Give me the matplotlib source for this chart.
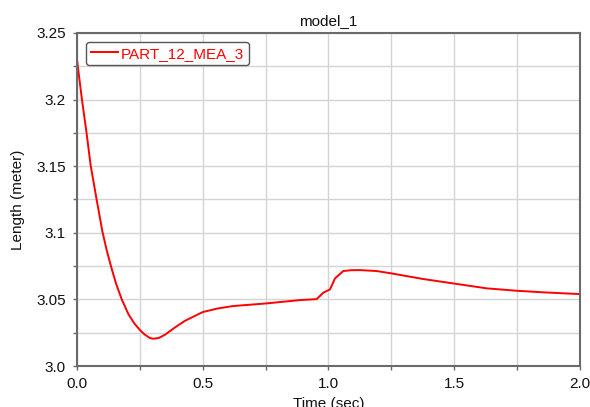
import matplotlib
matplotlib.use("Agg")
import matplotlib.pyplot as plt
from matplotlib.ticker import MultipleLocator, FormatStrFormatter

plt.rcParams['font.family'] = ['Liberation Sans', 'DejaVu Sans']

# Simulation output: measure PART_12_MEA_3 over time
time_sec = [0.0, 0.019, 0.038, 0.054, 0.078, 0.101, 0.118, 0.135, 0.155, 0.178,
            0.205, 0.228, 0.25, 0.27, 0.29, 0.303, 0.325, 0.35, 0.39, 0.43,
            0.5, 0.56, 0.62, 0.754, 0.887, 0.953, 0.979, 1.006, 1.026, 1.059,
            1.09, 1.125, 1.191, 1.251, 1.377, 1.496, 1.629, 1.748, 1.854, 2.0]
length_m = [3.230, 3.201, 3.175, 3.151, 3.125, 3.101, 3.087, 3.075, 3.062, 3.050,
            3.0387, 3.032, 3.027, 3.0235, 3.021, 3.0205, 3.021, 3.0235, 3.029, 3.034,
            3.0405, 3.0432, 3.045, 3.047, 3.0495, 3.0502, 3.055, 3.0575, 3.0658, 3.0713,
            3.0719, 3.072, 3.0713, 3.0695, 3.0653, 3.062, 3.0583, 3.0565, 3.0553, 3.054]

series_name = "PART_12_MEA_3"
title = "model_1"

fig = plt.figure(figsize=(5.9, 4.07), dpi=100)
ax = fig.add_axes([0.1305, 0.1007, 0.8525, 0.8183])

ax.plot(time_sec, length_m, color='#ff0000', lw=1.4, label=series_name)

ax.set_xlim(0.0, 2.0)
ax.set_ylim(3.0, 3.25)
ax.xaxis.set_major_locator(MultipleLocator(0.5))
ax.xaxis.set_minor_locator(MultipleLocator(0.25))
ax.yaxis.set_minor_locator(MultipleLocator(0.025))
ax.xaxis.set_major_formatter(FormatStrFormatter('%.1f'))
ax.set_yticks([3.0, 3.05, 3.1, 3.15, 3.2, 3.25])
ax.set_yticklabels(['3.0', '3.05', '3.1', '3.15', '3.2', '3.25'])

ax.grid(True, which='both', color='#d4d4d4', lw=1.0)
ax.set_axisbelow(True)
for s in ax.spines.values():
    s.set_color('#6a6a6a')
    s.set_linewidth(1.5)
ax.tick_params(which='both', direction='out', length=3, width=1, pad=5,
               color='#6a6a6a', labelsize=11, labelcolor='#111111')

ax.set_title(title, fontsize=11, color='#111111', pad=6)
ax.set_xlabel("Time (sec)", fontsize=11, color='#111111', labelpad=4)
ax.set_ylabel("Length (meter)", fontsize=11, color='#111111', labelpad=8)

leg = ax.legend(loc='upper left', fontsize=11, frameon=True, fancybox=True,
                handlelength=1.8, handletextpad=0.2, borderpad=0.3,
                borderaxespad=0.0, bbox_to_anchor=(0.018, 0.973),
                labelcolor='#ff0000')
leg.get_frame().set_edgecolor('#555555')
leg.get_frame().set_linewidth(1.0)
leg.get_frame().set_alpha(1.0)

fig.savefig("out.png", dpi=100)
